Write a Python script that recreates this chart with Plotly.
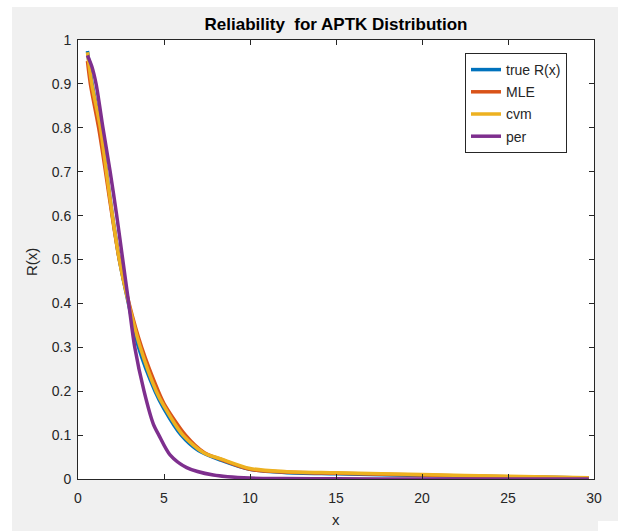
import plotly.graph_objects as go

# ---- data ----
x_true = [0.55, 0.8, 1.3, 1.65, 2.0, 2.4, 2.93, 3.52, 4.48, 5.0, 6.0, 7.0, 8.3, 10.0, 12.0, 15.0, 20.0, 25.0, 29.7]
r_true = [0.975, 0.905, 0.8, 0.7, 0.6, 0.5, 0.4, 0.3, 0.2, 0.16, 0.1, 0.065, 0.043, 0.022, 0.015, 0.012, 0.008, 0.005, 0.002]

x_mle = [0.55, 0.72, 1.2, 1.6, 1.98, 2.4, 2.97, 3.7, 4.67, 5.0, 6.25, 7.35, 8.3, 10.0, 12.0, 15.0, 20.0, 25.0, 29.7]
r_mle = [0.952, 0.9, 0.8, 0.7, 0.6, 0.5, 0.4, 0.3, 0.2, 0.172, 0.1, 0.06, 0.045, 0.022, 0.016, 0.013, 0.009, 0.005, 0.002]

x_cvm = [0.55, 0.8, 1.3, 1.65, 2.0, 2.4, 2.95, 3.62, 4.55, 5.0, 6.1, 7.3, 8.3, 10.0, 12.0, 15.0, 20.0, 25.0, 29.7]
r_cvm = [0.972, 0.9, 0.8, 0.7, 0.6, 0.5, 0.4, 0.3, 0.2, 0.166, 0.1, 0.06, 0.046, 0.024, 0.017, 0.014, 0.010, 0.006, 0.003]

x_per = [0.55, 0.8, 1.05, 1.45, 1.87, 2.25, 2.6, 2.95, 3.3, 3.84, 4.38, 4.7, 5.35, 6.32, 7.87, 10.0, 12.0, 15.0, 20.0, 25.0, 29.7]
r_per = [0.965, 0.94, 0.9, 0.8, 0.7, 0.6, 0.5, 0.4, 0.3, 0.2, 0.125, 0.1, 0.055, 0.026, 0.009, 0.002, 0.001, 0.0005, 0.0, 0.0, 0.0]

names = ["true R(x)", "MLE", "cvm", "per"]
colors = ["#0072BD", "#D95319", "#EDB120", "#7E2F8E"]
xs = [x_true, x_mle, x_cvm, x_per]
ys = [r_true, r_mle, r_cvm, r_per]

x_ticks = [0, 5, 10, 15, 20, 25, 30]
y_ticks = [0, 0.1, 0.2, 0.3, 0.4, 0.5, 0.6, 0.7, 0.8, 0.9, 1]

FONT = "Liberation Sans, Arial, sans-serif"
INK = "#262626"

fig = go.Figure()
for i, (xx, yy, n, c) in enumerate(zip(xs, ys, names, colors)):
    fig.add_trace(go.Scatter(
        x=xx, y=yy, name=n, mode="lines", legendgroup=str(i),
        line=dict(color=c, width=3.5, shape="spline", smoothing=0.8),
    ))

# plot area pixel geometry: left 78, right 594, top 40, bottom 479 (width 618, height 531)
W, H = 618, 531
L, R, T, B = 78, 594, 40, 479
pw, ph = R - L, B - T

def px(v):
    return (v - L) / pw

def py(v):
    return (B - v) / ph

shapes = [
    dict(type="rect", xref="paper", yref="paper", x0=px(-5), x1=px(12), y0=py(540), y1=py(-5),
         fillcolor="white", line_width=0, layer="below"),
    dict(type="rect", xref="paper", yref="paper", x0=px(-5), x1=px(625), y0=py(7), y1=py(-5),
         fillcolor="white", line_width=0, layer="below"),
    dict(type="rect", xref="paper", yref="paper", x0=px(598), x1=px(625), y0=py(540), y1=py(521),
         fillcolor="white", line_width=0, layer="below"),
]

fig.update_layout(
    width=W, height=H,
    margin=dict(l=L, r=W - R, t=T, b=H - B, pad=0),
    paper_bgcolor="#f0f0f0",
    plot_bgcolor="white",
    font=dict(family=FONT, size=14, color=INK),
    title=dict(text="<b>Reliability  for APTK Distribution</b>", x=0.5, xref="paper",
               y=1 - 24 / H, yanchor="middle", font=dict(size=17, color="#000000", family=FONT)),
    xaxis=dict(range=[0, 30], tickvals=x_ticks, ticktext=[str(v) for v in x_ticks],
               ticks="inside", ticklen=5, tickcolor=INK, showline=True, linecolor=INK, linewidth=1,
               mirror="ticks", showgrid=False, zeroline=False, ticklabelstandoff=6,
               tickfont=dict(size=14, color=INK)),
    yaxis=dict(range=[0, 1], tickvals=y_ticks, ticktext=[("%g" % v) for v in y_ticks],
               ticks="inside", ticklen=5, tickcolor=INK, showline=True, linecolor=INK, linewidth=1,
               mirror="ticks", showgrid=False, zeroline=False, ticklabelstandoff=3,
               tickfont=dict(size=14, color=INK)),
    legend=dict(x=px(465), y=py(53), xanchor="left", yanchor="top",
                bgcolor="white", bordercolor=INK, borderwidth=1,
                font=dict(size=14, color=INK, family=FONT), tracegroupgap=1),
    showlegend=True,
    shapes=shapes,
    annotations=[
        dict(text="R(x)", xref="paper", yref="paper", x=px(31), y=py(262), textangle=-90,
             showarrow=False, font=dict(size=15, color=INK, family=FONT), xanchor="center", yanchor="middle"),
        dict(text="x", xref="paper", yref="paper", x=px(336), y=py(519), showarrow=False,
             font=dict(size=15, color=INK, family=FONT), xanchor="center", yanchor="middle"),
    ],
)

fig.write_html("out.html")
